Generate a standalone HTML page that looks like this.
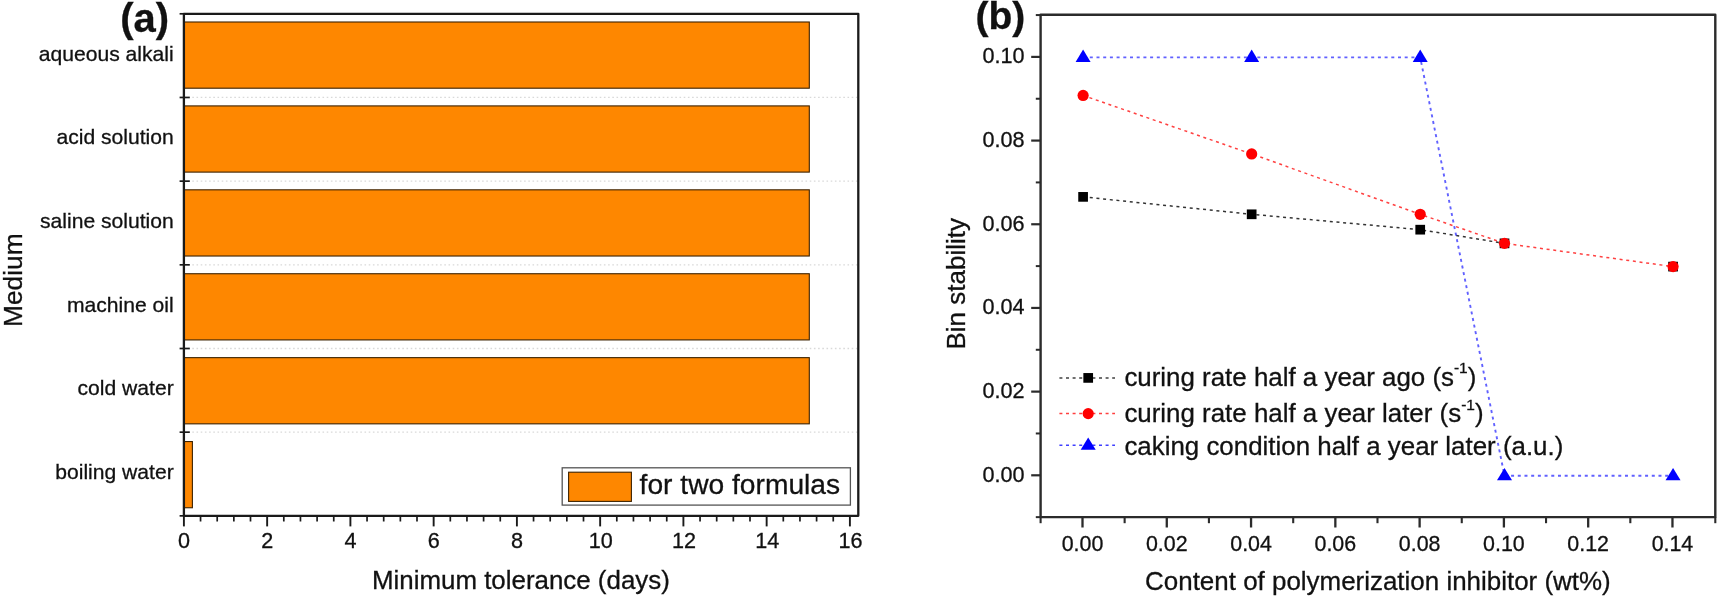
<!DOCTYPE html>
<html lang="en">
<head>
<meta charset="utf-8">
<title>Figure</title>
<style>
html,body{margin:0;padding:0;background:#fff;}
body{width:1720px;height:601px;overflow:hidden;}
svg{display:block;filter:blur(0.45px);font-family:'Liberation Sans', Arial, sans-serif;fill:#111;}
text{stroke:#111;stroke-width:0.3px;}
</style>
</head>
<body>
<svg width="1720" height="601" viewBox="0 0 1720 601">
<rect x="0" y="0" width="1720" height="601" fill="#ffffff"/>
<line x1="183.9" y1="97.47" x2="858.3" y2="97.47" stroke="#d9d9d9" stroke-width="1.3" stroke-dasharray="1.6 2.6"/>
<line x1="183.9" y1="181.15" x2="858.3" y2="181.15" stroke="#d9d9d9" stroke-width="1.3" stroke-dasharray="1.6 2.6"/>
<line x1="183.9" y1="264.82" x2="858.3" y2="264.82" stroke="#d9d9d9" stroke-width="1.3" stroke-dasharray="1.6 2.6"/>
<line x1="183.9" y1="348.50" x2="858.3" y2="348.50" stroke="#d9d9d9" stroke-width="1.3" stroke-dasharray="1.6 2.6"/>
<line x1="183.9" y1="432.18" x2="858.3" y2="432.18" stroke="#d9d9d9" stroke-width="1.3" stroke-dasharray="1.6 2.6"/>
<rect x="183.9" y="22.00" width="625.40" height="66.2" fill="#FE8700" stroke="#3d2200" stroke-width="1.1"/>
<rect x="183.9" y="105.91" width="625.40" height="66.2" fill="#FE8700" stroke="#3d2200" stroke-width="1.1"/>
<rect x="183.9" y="189.82" width="625.40" height="66.2" fill="#FE8700" stroke="#3d2200" stroke-width="1.1"/>
<rect x="183.9" y="273.73" width="625.40" height="66.2" fill="#FE8700" stroke="#3d2200" stroke-width="1.1"/>
<rect x="183.9" y="357.64" width="625.40" height="66.2" fill="#FE8700" stroke="#3d2200" stroke-width="1.1"/>
<rect x="183.9" y="441.55" width="8.50" height="66.2" fill="#FE8700" stroke="#3d2200" stroke-width="1.1"/>
<rect x="183.9" y="13.8" width="674.40" height="502.05" fill="none" stroke="#1a1a1a" stroke-width="2.3" stroke-linejoin="round"/>
<line x1="179.6" y1="13.80" x2="183.9" y2="13.80" stroke="#1a1a1a" stroke-width="1.7"/>
<line x1="179.6" y1="97.47" x2="189.8" y2="97.47" stroke="#1a1a1a" stroke-width="1.7"/>
<line x1="179.6" y1="181.15" x2="189.8" y2="181.15" stroke="#1a1a1a" stroke-width="1.7"/>
<line x1="179.6" y1="264.82" x2="189.8" y2="264.82" stroke="#1a1a1a" stroke-width="1.7"/>
<line x1="179.6" y1="348.50" x2="189.8" y2="348.50" stroke="#1a1a1a" stroke-width="1.7"/>
<line x1="179.6" y1="432.18" x2="189.8" y2="432.18" stroke="#1a1a1a" stroke-width="1.7"/>
<line x1="179.6" y1="515.85" x2="183.9" y2="515.85" stroke="#1a1a1a" stroke-width="1.7"/>
<line x1="183.90" y1="515.85" x2="183.90" y2="526.4" stroke="#1a1a1a" stroke-width="1.9"/>
<line x1="200.55" y1="515.85" x2="200.55" y2="521.5" stroke="#1a1a1a" stroke-width="1.7"/>
<line x1="217.20" y1="515.85" x2="217.20" y2="521.5" stroke="#1a1a1a" stroke-width="1.7"/>
<line x1="233.85" y1="515.85" x2="233.85" y2="521.5" stroke="#1a1a1a" stroke-width="1.7"/>
<line x1="250.50" y1="515.85" x2="250.50" y2="521.5" stroke="#1a1a1a" stroke-width="1.7"/>
<line x1="267.15" y1="515.85" x2="267.15" y2="526.4" stroke="#1a1a1a" stroke-width="1.9"/>
<line x1="283.80" y1="515.85" x2="283.80" y2="521.5" stroke="#1a1a1a" stroke-width="1.7"/>
<line x1="300.45" y1="515.85" x2="300.45" y2="521.5" stroke="#1a1a1a" stroke-width="1.7"/>
<line x1="317.10" y1="515.85" x2="317.10" y2="521.5" stroke="#1a1a1a" stroke-width="1.7"/>
<line x1="333.75" y1="515.85" x2="333.75" y2="521.5" stroke="#1a1a1a" stroke-width="1.7"/>
<line x1="350.40" y1="515.85" x2="350.40" y2="526.4" stroke="#1a1a1a" stroke-width="1.9"/>
<line x1="367.05" y1="515.85" x2="367.05" y2="521.5" stroke="#1a1a1a" stroke-width="1.7"/>
<line x1="383.70" y1="515.85" x2="383.70" y2="521.5" stroke="#1a1a1a" stroke-width="1.7"/>
<line x1="400.35" y1="515.85" x2="400.35" y2="521.5" stroke="#1a1a1a" stroke-width="1.7"/>
<line x1="417.00" y1="515.85" x2="417.00" y2="521.5" stroke="#1a1a1a" stroke-width="1.7"/>
<line x1="433.65" y1="515.85" x2="433.65" y2="526.4" stroke="#1a1a1a" stroke-width="1.9"/>
<line x1="450.30" y1="515.85" x2="450.30" y2="521.5" stroke="#1a1a1a" stroke-width="1.7"/>
<line x1="466.95" y1="515.85" x2="466.95" y2="521.5" stroke="#1a1a1a" stroke-width="1.7"/>
<line x1="483.60" y1="515.85" x2="483.60" y2="521.5" stroke="#1a1a1a" stroke-width="1.7"/>
<line x1="500.25" y1="515.85" x2="500.25" y2="521.5" stroke="#1a1a1a" stroke-width="1.7"/>
<line x1="516.90" y1="515.85" x2="516.90" y2="526.4" stroke="#1a1a1a" stroke-width="1.9"/>
<line x1="533.55" y1="515.85" x2="533.55" y2="521.5" stroke="#1a1a1a" stroke-width="1.7"/>
<line x1="550.20" y1="515.85" x2="550.20" y2="521.5" stroke="#1a1a1a" stroke-width="1.7"/>
<line x1="566.85" y1="515.85" x2="566.85" y2="521.5" stroke="#1a1a1a" stroke-width="1.7"/>
<line x1="583.50" y1="515.85" x2="583.50" y2="521.5" stroke="#1a1a1a" stroke-width="1.7"/>
<line x1="600.15" y1="515.85" x2="600.15" y2="526.4" stroke="#1a1a1a" stroke-width="1.9"/>
<line x1="616.80" y1="515.85" x2="616.80" y2="521.5" stroke="#1a1a1a" stroke-width="1.7"/>
<line x1="633.45" y1="515.85" x2="633.45" y2="521.5" stroke="#1a1a1a" stroke-width="1.7"/>
<line x1="650.10" y1="515.85" x2="650.10" y2="521.5" stroke="#1a1a1a" stroke-width="1.7"/>
<line x1="666.75" y1="515.85" x2="666.75" y2="521.5" stroke="#1a1a1a" stroke-width="1.7"/>
<line x1="683.40" y1="515.85" x2="683.40" y2="526.4" stroke="#1a1a1a" stroke-width="1.9"/>
<line x1="700.05" y1="515.85" x2="700.05" y2="521.5" stroke="#1a1a1a" stroke-width="1.7"/>
<line x1="716.70" y1="515.85" x2="716.70" y2="521.5" stroke="#1a1a1a" stroke-width="1.7"/>
<line x1="733.35" y1="515.85" x2="733.35" y2="521.5" stroke="#1a1a1a" stroke-width="1.7"/>
<line x1="750.00" y1="515.85" x2="750.00" y2="521.5" stroke="#1a1a1a" stroke-width="1.7"/>
<line x1="766.65" y1="515.85" x2="766.65" y2="526.4" stroke="#1a1a1a" stroke-width="1.9"/>
<line x1="783.30" y1="515.85" x2="783.30" y2="521.5" stroke="#1a1a1a" stroke-width="1.7"/>
<line x1="799.95" y1="515.85" x2="799.95" y2="521.5" stroke="#1a1a1a" stroke-width="1.7"/>
<line x1="816.60" y1="515.85" x2="816.60" y2="521.5" stroke="#1a1a1a" stroke-width="1.7"/>
<line x1="833.25" y1="515.85" x2="833.25" y2="521.5" stroke="#1a1a1a" stroke-width="1.7"/>
<line x1="849.90" y1="515.85" x2="849.90" y2="526.4" stroke="#1a1a1a" stroke-width="1.9"/>
<text x="183.90" y="548.4" font-size="21.6" text-anchor="middle">0</text>
<text x="267.15" y="548.4" font-size="21.6" text-anchor="middle">2</text>
<text x="350.40" y="548.4" font-size="21.6" text-anchor="middle">4</text>
<text x="433.65" y="548.4" font-size="21.6" text-anchor="middle">6</text>
<text x="516.90" y="548.4" font-size="21.6" text-anchor="middle">8</text>
<text x="600.85" y="548.4" font-size="21.6" text-anchor="middle">10</text>
<text x="684.10" y="548.4" font-size="21.6" text-anchor="middle">12</text>
<text x="767.35" y="548.4" font-size="21.6" text-anchor="middle">14</text>
<text x="850.60" y="548.4" font-size="21.6" text-anchor="middle">16</text>
<text x="173.7" y="60.60" font-size="21.1" text-anchor="end">aqueous alkali</text>
<text x="173.7" y="144.28" font-size="21.1" text-anchor="end">acid solution</text>
<text x="173.7" y="227.95" font-size="21.1" text-anchor="end">saline solution</text>
<text x="173.7" y="311.62" font-size="21.1" text-anchor="end">machine oil</text>
<text x="173.7" y="395.30" font-size="21.1" text-anchor="end">cold water</text>
<text x="173.7" y="478.98" font-size="21.1" text-anchor="end">boiling water</text>
<text x="520.9" y="589" font-size="25.9" text-anchor="middle">Minimum tolerance (days)</text>
<text transform="translate(22 280.2) rotate(-90)" font-size="25.8" text-anchor="middle" textLength="93.6" lengthAdjust="spacingAndGlyphs">Medium</text>
<text x="120.3" y="31.6" font-size="40" font-weight="bold">(a)</text>
<rect x="562.2" y="467.8" width="288.2" height="37.3" fill="#fff" stroke="#555" stroke-width="1.3"/>
<rect x="568.6" y="472.2" width="62.8" height="29.2" fill="#FE8700" stroke="#3d2200" stroke-width="1.1"/>
<text x="639.6" y="494.3" font-size="28.2">for two formulas</text>
<rect x="1040.6" y="14.8" width="674.70" height="502.30" fill="none" stroke="#2b2b2b" stroke-width="2.4" stroke-linejoin="round"/>
<line x1="1040.60" y1="517.1" x2="1040.60" y2="523.2" stroke="#2b2b2b" stroke-width="2.1"/>
<line x1="1082.50" y1="517.1" x2="1082.50" y2="527.5" stroke="#2b2b2b" stroke-width="2.3"/>
<text x="1082.50" y="550.8" font-size="21.4" text-anchor="middle">0.00</text>
<line x1="1124.64" y1="517.1" x2="1124.64" y2="523.2" stroke="#2b2b2b" stroke-width="2.1"/>
<line x1="1166.78" y1="517.1" x2="1166.78" y2="527.5" stroke="#2b2b2b" stroke-width="2.3"/>
<text x="1166.78" y="550.8" font-size="21.4" text-anchor="middle">0.02</text>
<line x1="1208.92" y1="517.1" x2="1208.92" y2="523.2" stroke="#2b2b2b" stroke-width="2.1"/>
<line x1="1251.06" y1="517.1" x2="1251.06" y2="527.5" stroke="#2b2b2b" stroke-width="2.3"/>
<text x="1251.06" y="550.8" font-size="21.4" text-anchor="middle">0.04</text>
<line x1="1293.20" y1="517.1" x2="1293.20" y2="523.2" stroke="#2b2b2b" stroke-width="2.1"/>
<line x1="1335.34" y1="517.1" x2="1335.34" y2="527.5" stroke="#2b2b2b" stroke-width="2.3"/>
<text x="1335.34" y="550.8" font-size="21.4" text-anchor="middle">0.06</text>
<line x1="1377.48" y1="517.1" x2="1377.48" y2="523.2" stroke="#2b2b2b" stroke-width="2.1"/>
<line x1="1419.62" y1="517.1" x2="1419.62" y2="527.5" stroke="#2b2b2b" stroke-width="2.3"/>
<text x="1419.62" y="550.8" font-size="21.4" text-anchor="middle">0.08</text>
<line x1="1461.76" y1="517.1" x2="1461.76" y2="523.2" stroke="#2b2b2b" stroke-width="2.1"/>
<line x1="1503.90" y1="517.1" x2="1503.90" y2="527.5" stroke="#2b2b2b" stroke-width="2.3"/>
<text x="1503.90" y="550.8" font-size="21.4" text-anchor="middle">0.10</text>
<line x1="1546.04" y1="517.1" x2="1546.04" y2="523.2" stroke="#2b2b2b" stroke-width="2.1"/>
<line x1="1588.18" y1="517.1" x2="1588.18" y2="527.5" stroke="#2b2b2b" stroke-width="2.3"/>
<text x="1588.18" y="550.8" font-size="21.4" text-anchor="middle">0.12</text>
<line x1="1630.32" y1="517.1" x2="1630.32" y2="523.2" stroke="#2b2b2b" stroke-width="2.1"/>
<line x1="1672.46" y1="517.1" x2="1672.46" y2="527.5" stroke="#2b2b2b" stroke-width="2.3"/>
<text x="1672.46" y="550.8" font-size="21.4" text-anchor="middle">0.14</text>
<line x1="1715.30" y1="517.1" x2="1715.30" y2="523.2" stroke="#2b2b2b" stroke-width="2.1"/>
<line x1="1035.8" y1="517.14" x2="1040.6" y2="517.14" stroke="#2b2b2b" stroke-width="2.0"/>
<line x1="1031.2" y1="475.30" x2="1040.6" y2="475.30" stroke="#2b2b2b" stroke-width="2.2"/>
<text x="1024.6" y="481.60" font-size="21.6" text-anchor="end">0.00</text>
<line x1="1035.8" y1="433.46" x2="1040.6" y2="433.46" stroke="#2b2b2b" stroke-width="2.0"/>
<line x1="1031.2" y1="391.62" x2="1040.6" y2="391.62" stroke="#2b2b2b" stroke-width="2.2"/>
<text x="1024.6" y="397.92" font-size="21.6" text-anchor="end">0.02</text>
<line x1="1035.8" y1="349.78" x2="1040.6" y2="349.78" stroke="#2b2b2b" stroke-width="2.0"/>
<line x1="1031.2" y1="307.94" x2="1040.6" y2="307.94" stroke="#2b2b2b" stroke-width="2.2"/>
<text x="1024.6" y="314.24" font-size="21.6" text-anchor="end">0.04</text>
<line x1="1035.8" y1="266.10" x2="1040.6" y2="266.10" stroke="#2b2b2b" stroke-width="2.0"/>
<line x1="1031.2" y1="224.26" x2="1040.6" y2="224.26" stroke="#2b2b2b" stroke-width="2.2"/>
<text x="1024.6" y="230.56" font-size="21.6" text-anchor="end">0.06</text>
<line x1="1035.8" y1="182.42" x2="1040.6" y2="182.42" stroke="#2b2b2b" stroke-width="2.0"/>
<line x1="1031.2" y1="140.58" x2="1040.6" y2="140.58" stroke="#2b2b2b" stroke-width="2.2"/>
<text x="1024.6" y="146.88" font-size="21.6" text-anchor="end">0.08</text>
<line x1="1035.8" y1="98.74" x2="1040.6" y2="98.74" stroke="#2b2b2b" stroke-width="2.0"/>
<line x1="1031.2" y1="56.90" x2="1040.6" y2="56.90" stroke="#2b2b2b" stroke-width="2.2"/>
<text x="1024.6" y="63.20" font-size="21.6" text-anchor="end">0.10</text>
<line x1="1035.8" y1="15.06" x2="1040.6" y2="15.06" stroke="#2b2b2b" stroke-width="2.0"/>
<polyline points="1083.10,196.87 1251.66,214.30 1420.22,229.68 1504.50,243.36" fill="none" stroke="#000" stroke-width="1.5" stroke-dasharray="3 3.7" opacity="0.8"/>
<rect x="1078.25" y="192.02" width="9.7" height="9.7" fill="#000"/>
<rect x="1246.81" y="209.45" width="9.7" height="9.7" fill="#000"/>
<rect x="1415.37" y="224.83" width="9.7" height="9.7" fill="#000"/>
<rect x="1499.65" y="238.51" width="9.7" height="9.7" fill="#000"/>
<rect x="1668.21" y="261.75" width="9.7" height="9.7" fill="#000"/>
<polyline points="1083.10,95.44 1251.66,153.95 1420.22,214.30 1504.50,243.36 1673.06,266.60" fill="none" stroke="#FF0000" stroke-width="1.5" stroke-dasharray="3 3.7" opacity="0.75"/>
<ellipse cx="1083.10" cy="95.44" rx="5.6" ry="5.6" fill="#FF0000"/>
<ellipse cx="1251.66" cy="153.95" rx="5.6" ry="5.6" fill="#FF0000"/>
<ellipse cx="1420.22" cy="214.30" rx="5.6" ry="5.6" fill="#FF0000"/>
<ellipse cx="1504.50" cy="243.36" rx="5.6" ry="5.6" fill="#FF0000"/>
<ellipse cx="1673.06" cy="266.60" rx="5.6" ry="5.6" fill="#FF0000"/>
<polyline points="1083.10,57.40 1251.66,57.40 1420.22,57.40 1504.50,475.80 1673.06,475.80" fill="none" stroke="#0000FF" stroke-width="1.9" stroke-dasharray="3 3.7" opacity="0.62"/>
<polygon points="1083.10,49.60 1090.60,61.90 1075.60,61.90" fill="#0000FF"/>
<polygon points="1251.66,49.60 1259.16,61.90 1244.16,61.90" fill="#0000FF"/>
<polygon points="1420.22,49.60 1427.72,61.90 1412.72,61.90" fill="#0000FF"/>
<polygon points="1504.50,468.00 1512.00,480.30 1497.00,480.30" fill="#0000FF"/>
<polygon points="1673.06,468.00 1680.56,480.30 1665.56,480.30" fill="#0000FF"/>
<line x1="1059.4" y1="377.9" x2="1115" y2="377.9" stroke="#000" stroke-width="1.5" stroke-dasharray="3 3.6" opacity="0.75"/>
<rect x="1083.35" y="373.05" width="9.7" height="9.7" fill="#000"/>
<line x1="1059.4" y1="413.6" x2="1115" y2="413.6" stroke="#FF0000" stroke-width="1.5" stroke-dasharray="3 3.6" opacity="0.75"/>
<ellipse cx="1088.20" cy="413.60" rx="5.6" ry="5.6" fill="#FF0000"/>
<line x1="1059.4" y1="445.2" x2="1115" y2="445.2" stroke="#0000FF" stroke-width="1.5" stroke-dasharray="3 3.6" opacity="0.75"/>
<polygon points="1088.20,437.40 1095.70,449.70 1080.70,449.70" fill="#0000FF"/>
<text x="1124.4" y="385.8" font-size="25.9">curing rate half a year ago (s<tspan font-size="15.5" dy="-12.6">-1</tspan><tspan dy="12.6">)</tspan></text>
<text x="1124.4" y="422.2" font-size="25.9">curing rate half a year later (s<tspan font-size="15.5" dy="-12.6">-1</tspan><tspan dy="12.6">)</tspan></text>
<text x="1124.4" y="454.9" font-size="25.9">caking condition half a year later (a.u.)</text>
<text x="1377.9" y="590.2" font-size="25.95" text-anchor="middle">Content of polymerization inhibitor (wt%)</text>
<text transform="translate(965.3 283.8) rotate(-90)" font-size="26" text-anchor="middle">Bin stability</text>
<text x="975.4" y="29.2" font-size="39" font-weight="bold">(b)</text>
</svg>
</body>
</html>
